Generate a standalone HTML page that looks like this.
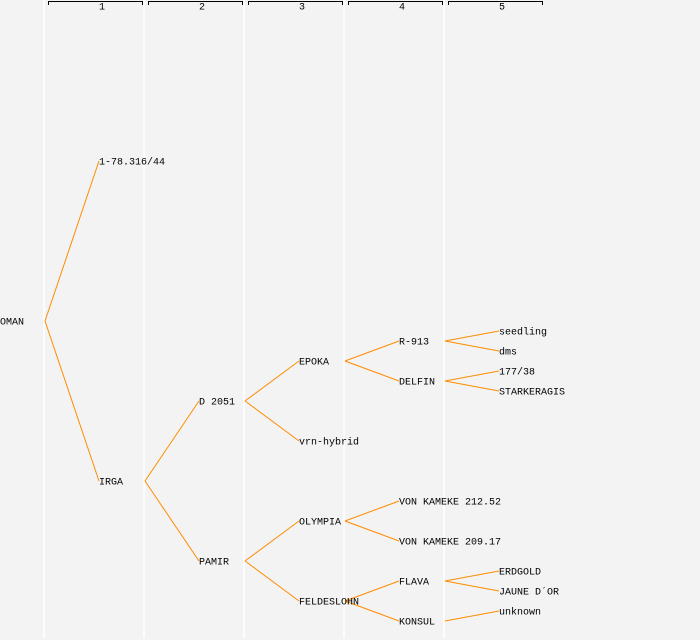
<!DOCTYPE html>
<html><head><meta charset="utf-8"><style>
html,body{margin:0;padding:0;background:#f3f3f3;}
svg{display:block}
text{font-family:"Liberation Mono","DejaVu Sans Mono",monospace;font-size:10px;fill:#000;dominant-baseline:central}
</style></head><body>
<svg width="700" height="640" xmlns="http://www.w3.org/2000/svg">
<rect width="700" height="640" fill="#f3f3f3"/>
<g stroke="#ffffff" stroke-width="1.5">
<line x1="44" y1="0" x2="44" y2="638"/><line x1="144" y1="0" x2="144" y2="638"/>
<line x1="244" y1="0" x2="244" y2="638"/><line x1="344" y1="0" x2="344" y2="638"/>
<line x1="444" y1="0" x2="444" y2="638"/>
</g>
<g stroke="#000" stroke-width="1" fill="none">
<path d="M48.5,5 V1.5 H142.5 V5"/><path d="M148.5,5 V1.5 H242.5 V5"/>
<path d="M248.5,5 V1.5 H342.5 V5"/><path d="M348.5,5 V1.5 H442.5 V5"/>
<path d="M448.5,5 V1.5 H542.5 V5"/>
</g>
<g style="font-size:8px;text-anchor:middle">
<text x="102" y="8">1</text><text x="202" y="8">2</text><text x="302" y="8">3</text><text x="402" y="8">4</text><text x="502" y="8">5</text>
</g>
<g stroke="#ff8c00" stroke-width="1" fill="none">
<line x1="45" y1="321" x2="99" y2="161"/><line x1="45" y1="321" x2="99" y2="481"/>
<line x1="145" y1="481" x2="199" y2="401"/><line x1="145" y1="481" x2="199" y2="561"/>
<line x1="245" y1="401" x2="299" y2="361"/><line x1="245" y1="401" x2="299" y2="441"/>
<line x1="245" y1="561" x2="299" y2="521"/><line x1="245" y1="561" x2="299" y2="601"/>
<line x1="345" y1="361" x2="399" y2="341"/><line x1="345" y1="361" x2="399" y2="381"/>
<line x1="345" y1="521" x2="399" y2="501"/><line x1="345" y1="521" x2="399" y2="541"/>
<line x1="345" y1="601" x2="399" y2="581"/><line x1="345" y1="601" x2="399" y2="621"/>
<line x1="445" y1="341" x2="499" y2="331"/><line x1="445" y1="341" x2="499" y2="351"/>
<line x1="445" y1="381" x2="499" y2="371"/><line x1="445" y1="381" x2="499" y2="391"/>
<line x1="445" y1="581" x2="499" y2="571"/><line x1="445" y1="581" x2="499" y2="591"/>
<line x1="445" y1="621" x2="499" y2="611"/>
</g>
<g transform="translate(0,2)">
<text x="0" y="321">OMAN</text>
<text x="99" y="161">1-78.316/44</text><text x="99" y="481">IRGA</text>
<text x="199" y="401">D 2051</text><text x="199" y="561">PAMIR</text>
<text x="299" y="361">EPOKA</text><text x="299" y="441">vrn-hybrid</text>
<text x="299" y="521">OLYMPIA</text><text x="299" y="601">FELDESLOHN</text>
<text x="399" y="341">R-913</text><text x="399" y="381">DELFIN</text>
<text x="399" y="501">VON KAMEKE 212.52</text><text x="399" y="541">VON KAMEKE 209.17</text>
<text x="399" y="581">FLAVA</text><text x="399" y="621">KONSUL</text>
<text x="499" y="331">seedling</text><text x="499" y="351">dms</text>
<text x="499" y="371">177/38</text><text x="499" y="391">STARKERAGIS</text>
<text x="499" y="571">ERDGOLD</text><text x="499" y="591">JAUNE D´OR</text>
<text x="499" y="611">unknown</text>
</g>
</svg>
</body></html>
